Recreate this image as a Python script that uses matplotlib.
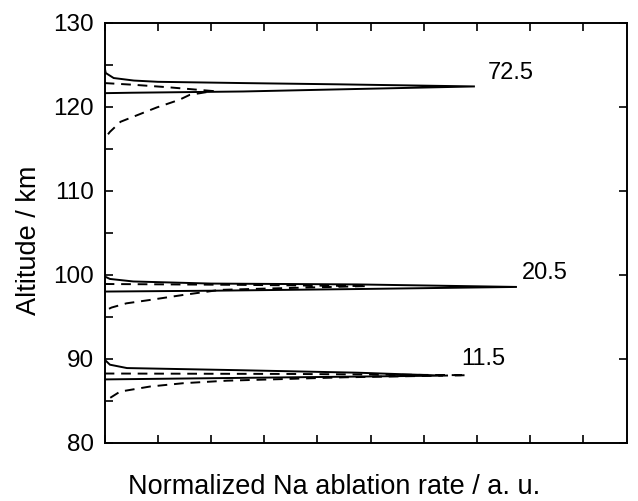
import matplotlib
matplotlib.use("Agg")
import matplotlib.pyplot as plt
from matplotlib.ticker import MultipleLocator

plt.rcParams['font.family'] = ['Liberation Sans', 'DejaVu Sans']

# profile labels and where they sit (x, altitude)
labels = ["72.5", "20.5", "11.5"]
label_x = [7.2, 7.85, 6.7]
label_alt = [124.0, 100.2, 90.0]

# solid curves (x = normalized rate, y = altitude in km)
solid_72_x = [0.0, 0.02, 0.17, 0.55, 1.0, 2.6, 4.4, 6.96, 4.4, 2.6, 0.5, 0.0]
solid_72_y = [124.7, 124.0, 123.4, 123.1, 122.95, 122.8, 122.65, 122.4, 122.05, 121.8, 121.65, 121.6]
solid_20_x = [0.0, 0.1, 0.54, 2.0, 4.75, 7.75, 4.75, 2.0, 0.0]
solid_20_y = [99.8, 99.5, 99.2, 98.95, 98.85, 98.55, 98.3, 98.1, 98.0]
solid_11_x = [0.0, 0.1, 0.42, 2.5, 4.75, 6.36, 3.5, 0.0]
solid_11_y = [89.9, 89.3, 88.9, 88.65, 88.35, 88.0, 87.8, 87.55]

# dashed curves
dash_72_x = [0.0, 0.54, 1.2, 2.04, 1.6, 1.4, 0.98, 0.54, 0.3, 0.1, 0.0]
dash_72_y = [122.8, 122.6, 122.3, 121.85, 121.4, 120.8, 119.9, 118.8, 118.2, 117.0, 116.2]
dash_20_x = [0.0, 2.5, 4.93, 3.0, 2.17, 1.48, 0.85, 0.41, 0.13, 0.0]
dash_20_y = [98.9, 98.8, 98.65, 98.35, 98.2, 97.6, 97.0, 96.6, 96.1, 95.7]
dash_11_x = [0.0, 3.5, 6.8, 4.5, 2.3, 1.48, 0.85, 0.29, 0.04, 0.0]
dash_11_y = [88.25, 88.2, 88.05, 87.8, 87.4, 87.1, 86.7, 86.1, 85.1, 84.9]

fig = plt.figure(figsize=(6.38, 5.01), dpi=100)
ax = fig.add_axes([0.164, 0.116, 0.818, 0.839])

for xs, ys in [(solid_72_x, solid_72_y), (solid_20_x, solid_20_y), (solid_11_x, solid_11_y)]:
    ax.plot(xs, ys, color='black', lw=1.4, solid_joinstyle='miter')
for xs, ys in [(dash_72_x, dash_72_y), (dash_20_x, dash_20_y), (dash_11_x, dash_11_y)]:
    ax.plot(xs, ys, color='black', lw=1.4, dashes=(5, 3.5))

for t, x, y in zip(labels, label_x, label_alt):
    ax.text(x, y, t, fontsize=17, va='center', ha='left')

ax.set_xlim(0, 9.81)
ax.set_ylim(80, 130)
ax.xaxis.set_major_locator(MultipleLocator(1))
ax.yaxis.set_major_locator(MultipleLocator(10))
ax.yaxis.set_minor_locator(MultipleLocator(5))
ax.tick_params(axis='both', which='both', direction='in', width=1.2, length=6)
ax.tick_params(axis='x', top=True, labelbottom=False)
ax.tick_params(axis='y', which='major', right=True, labelsize=17.5, pad=8)
ax.tick_params(axis='y', which='minor', left=True, right=False)
for s in ax.spines.values():
    s.set_linewidth(1.4)

ax.set_ylabel("Altitude / km", fontsize=19.5)
ax.yaxis.label.set_va('center')
ax.yaxis.set_label_coords(-0.144, 0.482)
ax.set_xlabel("Normalized Na ablation rate / a. u.", fontsize=19.5)
ax.xaxis.label.set_va('center')
ax.xaxis.set_label_coords(0.439, -0.104)

fig.savefig("out.png", dpi=100)
